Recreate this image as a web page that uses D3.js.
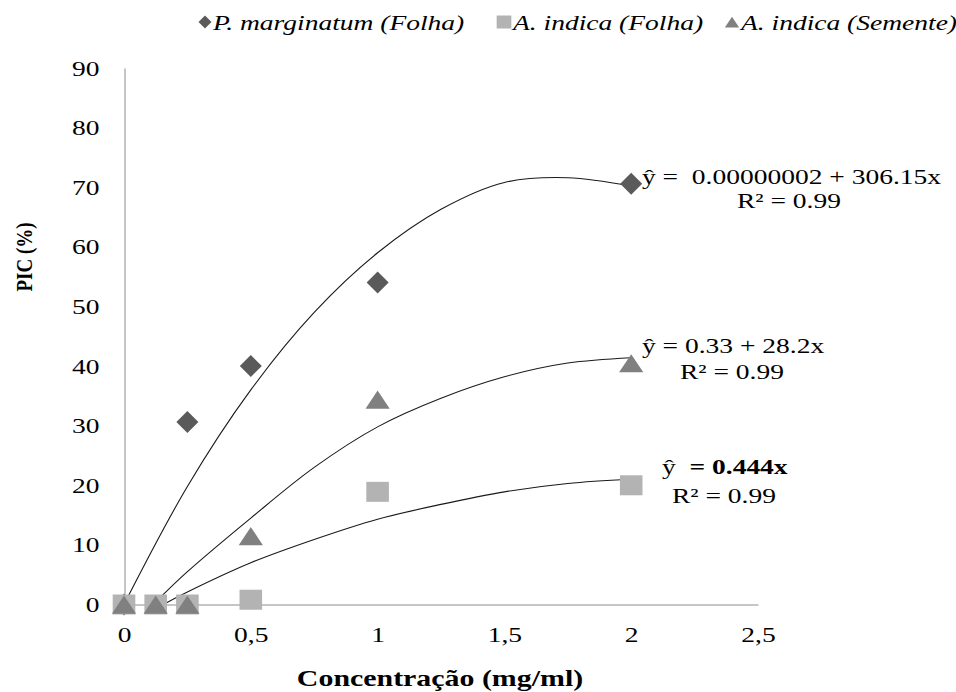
<!DOCTYPE html>
<html>
<head>
<meta charset="utf-8">
<title>PIC (%) x Concentração</title>
<script src="https://d3js.org/d3.v7.min.js"></script>
<style>
  body { margin: 0; background: #fff; }
  svg { display: block; font-family: "Liberation Serif", "Times New Roman", serif; }
  .axis text { font-size: 22px; fill: #000; }
  .axis path { stroke: #8c8c8c; }
  .trend { fill: none; stroke: #1a1a1a; stroke-width: 1.1; }
  .note { font-size: 22px; white-space: pre; }
</style>
</head>
<body>
<svg id="chart" width="956" height="692"></svg>
<script>
// series
const seriesNames = ["P. marginatum (Folha)", "A. indica (Folha)", "A. indica (Semente)"];
const pMarginatumX = [0, 0.25, 0.5, 1, 2];
const pMarginatumY = [0, 30.6, 40, 54, 70.6];
const aIndicaX = [0, 0.125, 0.25, 0.5, 1, 2];
const aIndicaFolhaY = [0, 0, 0, 0.8, 18.9, 20];
const aIndicaSementeY = [0, 0, 0, 11.5, 34.4, 40.5];

// trend lines, points
const trendPmX = [0, 0.25, 0.5, 0.75, 1, 1.25, 1.5, 1.75, 2];
const trendPmY = [0, 19.8, 36, 49, 59, 66.3, 70.8, 71.6, 70.2];
const trendSemX = [0.115, 0.25, 0.5, 0.75, 1, 1.25, 1.5, 1.75, 2];
const trendSemY = [0, 5.5, 14.5, 23, 29.8, 34.6, 38.2, 40.5, 41.4];
const trendFolX = [0.155, 0.25, 0.5, 0.75, 1, 1.25, 1.5, 1.75, 2];
const trendFolY = [0, 2.1, 7, 10.9, 14.3, 16.8, 18.9, 20.3, 21.0];

// equations
const eqLabels = ["ŷ =  0.00000002 + 306.15x", "ŷ = 0.33 + 28.2x", "ŷ  = 0.444x"];
const r2Labels = ["R² = 0.99", "R² = 0.99", "R² = 0.99"];

// ticks
const xTicks = [0, 0.5, 1, 1.5, 2, 2.5];
const xTickLabels = ["0", "0,5", "1", "1,5", "2", "2,5"];
const yTicks = [0, 10, 20, 30, 40, 50, 60, 70, 80, 90];

const serif = '"Liberation Serif", "Times New Roman", serif';
const svg = d3.select("#chart");

const x = d3.scaleLinear().domain([0, 2.5]).range([124, 758]);
const y = d3.scaleLinear().domain([0, 90]).range([604.5, 68]);

const colors = ["#5a5a5a", "#b3b3b3", "#808080"];
const sx = 1.25; // the original figure is stretched sideways

// axes
const gx = svg.append("g")
  .attr("class", "axis")
  .attr("transform", "translate(0,604.5)")
  .call(d3.axisBottom(x).tickValues(xTicks).tickFormat((d, i) => xTickLabels[i])
    .tickSize(0).tickPadding(22));
gx.attr("font-family", serif);
gx.selectAll("text").attr("transform", `scale(${sx},1)`);

const gy = svg.append("g")
  .attr("class", "axis")
  .attr("transform", "translate(124.5,0)")
  .call(d3.axisLeft(y).tickValues(yTicks).tickSize(0).tickPadding(20));
gy.attr("font-family", serif);
gy.selectAll("text").attr("transform", `scale(${sx},1)`);

// small stub left of the origin
svg.append("line")
  .attr("x1", 114).attr("x2", 124)
  .attr("y1", y(0)).attr("y2", y(0))
  .attr("stroke", "#8c8c8c");

// trend lines
const line = d3.line().x(d => x(d[0])).y(d => y(d[1])).curve(d3.curveCatmullRom);
[[trendPmX, trendPmY], [trendSemX, trendSemY], [trendFolX, trendFolY]].forEach(([xs, ys]) => {
  svg.append("path")
    .attr("class", "trend")
    .attr("d", line(xs.map((v, i) => [v, ys[i]])));
});

// markers: 0 diamond, 1 square, 2 triangle
function marker(sel, kind, size) {
  if (kind === 0) {
    sel.attr("d", d3.symbol(d3.symbolSquare, size * size / 2)())
       .attr("transform", d => `translate(${d[0]},${d[1]}) rotate(45)`);
  } else if (kind === 1) {
    sel.attr("d", d3.symbol(d3.symbolSquare, size * size)())
       .attr("transform", d => `translate(${d[0]},${d[1]}) scale(1.13,1)`);
  } else {
    const h = size * Math.sqrt(3) / 2;
    sel.attr("d", d3.symbol(d3.symbolTriangle, 0.5 * size * h)())
       .attr("transform", d => `translate(${d[0]},${d[1] + h / 6}) scale(1.1,0.95)`);
  }
}

const seriesPts = [
  pMarginatumX.map((v, i) => [x(v), y(pMarginatumY[i])]),
  aIndicaX.map((v, i) => [x(v), y(aIndicaFolhaY[i])]),
  aIndicaX.map((v, i) => [x(v), y(aIndicaSementeY[i])])
];
const sizes = [22, 20, 22];

seriesPts.forEach((pts, k) => {
  const m = svg.append("g").selectAll("path").data(pts).join("path").attr("fill", colors[k]);
  marker(m, k, sizes[k]);
});

// legend
const legendPos = [[205, 213], [504, 513], [732, 741]];
seriesNames.forEach((name, k) => {
  const m = svg.append("path").datum([legendPos[k][0], 22]).attr("fill", colors[k]);
  marker(m, k, 13);
  svg.append("text")
    .attr("transform", `translate(${legendPos[k][1]},30) scale(${sx},1)`)
    .attr("font-size", 22).attr("font-style", "italic")
    .text(name);
});

// equations (the last one has a bold right-hand side)
const eqPos = [[642, 184], [642, 353], [662, 474]];
const r2Pos = [[737, 208], [680, 379], [672, 503]];
eqLabels.forEach((t, k) => {
  const eq = svg.append("text").attr("class", "note")
    .attr("transform", `translate(${eqPos[k][0]},${eqPos[k][1]}) scale(${sx},1)`);
  if (k === 2) {
    eq.append("tspan").text(t.slice(0, 3));
    eq.append("tspan").attr("font-weight", "bold").text(t.slice(3));
  } else {
    eq.text(t);
  }
  svg.append("text").attr("class", "note")
    .attr("transform", `translate(${r2Pos[k][0]},${r2Pos[k][1]}) scale(${sx},1)`)
    .text(r2Labels[k]);
});

// axis titles
svg.append("text")
  .attr("transform", "translate(440,686) scale(1.3,1)")
  .attr("text-anchor", "middle")
  .attr("font-size", 23).attr("font-weight", "bold")
  .text("Concentração (mg/ml)");

svg.append("text")
  .attr("transform", "translate(32,257) scale(1.2,1) rotate(-90)")
  .attr("text-anchor", "middle")
  .attr("font-size", 19).attr("font-weight", "bold")
  .text("PIC (%)");
</script>
</body>
</html>
